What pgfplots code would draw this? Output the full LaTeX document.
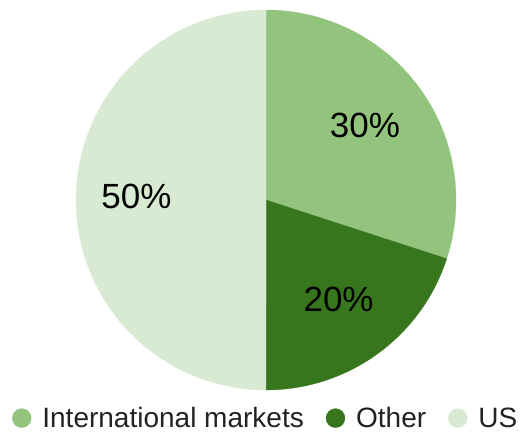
\documentclass[border=0pt]{standalone}
\usepackage{pgfplots}
\pgfplotsset{compat=1.18}
\usepackage{fontspec}
\setmainfont{Liberation Sans}
\definecolor{intl}{HTML}{93C47D}
\definecolor{other}{HTML}{38761D}
\definecolor{us}{HTML}{D9EAD3}
\definecolor{txt}{HTML}{222222}
% shares (percent)
\def\vIntl{30}
\def\vOther{20}
\def\vUS{50}
\pgfmathsetmacro\aA{90}
\pgfmathsetmacro\aB{\aA-3.6*\vIntl}
\pgfmathsetmacro\aC{\aB-3.6*\vOther}
\pgfmathsetmacro\aD{\aC-3.6*\vUS}
\begin{document}
\begin{tikzpicture}
\path[use as bounding box] (0,0) rectangle (526pt,432pt);
\begin{axis}[
  scale only axis, width=380pt, height=380pt,
  at={(266pt,232pt)}, anchor=center,
  xmin=-1, xmax=1, ymin=-1, ymax=1,
  hide axis, clip=false,
  legend style={at={(0.498,-0.074)}, anchor=center, draw=none, fill=none,
    legend columns=-1, font=\fontsize{28}{30}\selectfont, text=txt,
    /tikz/every odd column/.append style={column sep=10pt},
    /tikz/every even column/.append style={column sep=21pt},
    inner sep=0pt, nodes={inner sep=1pt}},
  legend image code/.code={\fill[#1] (0pt,0pt) circle (9.5pt);},
]
\addplot[fill=intl, draw=intl, line width=0.3pt, domain=\aB:\aA, samples=90, variable=\t]
  ({cos(\t)},{sin(\t)}) -- (axis cs:0,0) -- cycle;
\addlegendentry{International markets}
\addplot[fill=other, draw=other, line width=0.3pt, domain=\aC:\aB, samples=90, variable=\t]
  ({cos(\t)},{sin(\t)}) -- (axis cs:0,0) -- cycle;
\addlegendentry{Other}
\addplot[fill=us, draw=us, line width=0.3pt, domain=\aD:\aC, samples=150, variable=\t]
  ({cos(\t)},{sin(\t)}) -- (axis cs:0,0) -- cycle;
\addlegendentry{US}
\node[font=\fontsize{35}{40}\selectfont, text=black] at (axis cs:0.521,0.392) {\vIntl\%};
\node[font=\fontsize{35}{40}\selectfont, text=black] at (axis cs:0.382,-0.524) {\vOther\%};
\node[font=\fontsize{35}{40}\selectfont, text=black] at (axis cs:-0.682,0.018) {\vUS\%};
\end{axis}
\end{tikzpicture}
\end{document}
